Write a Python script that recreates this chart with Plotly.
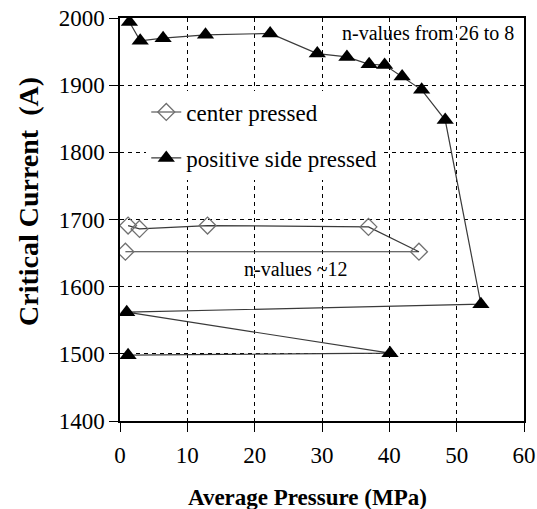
import plotly.graph_objects as go

# center pressed (open diamonds)
center_x = [1.2, 2.9, 13.0, 36.9, 44.4, 0.8]
center_y = [1691, 1686, 1691, 1689, 1652, 1652]

# positive side pressed (filled triangles)
pos_x = [1.4, 3.0, 6.4, 12.7, 22.3, 29.3, 33.7, 37.0, 39.3, 41.9, 44.8, 48.3, 53.6, 1.0, 40.1, 1.2]
pos_y = [1994, 1966, 1970, 1975, 1977, 1947, 1942, 1931, 1930, 1913, 1893, 1848, 1574, 1562, 1501, 1498]

x_ticks = [0, 10, 20, 30, 40, 50, 60]
y_ticks = [1400, 1500, 1600, 1700, 1800, 1900, 2000]

FONT = "Liberation Serif"

fig = go.Figure()
fig.add_trace(go.Scatter(
    x=center_x, y=center_y, mode="lines+markers", name="center pressed",
    legendgroup="a",
    line=dict(color="#3a3a3a", width=1.2),
    marker=dict(symbol="diamond-open", size=13, color="#707070", line=dict(width=1.3)),
))
fig.add_trace(go.Scatter(
    x=pos_x, y=pos_y, mode="lines+markers", name="positive side pressed",
    legendgroup="b",
    line=dict(color="#3a3a3a", width=1.2),
    marker=dict(symbol="triangle-up", size=15, color="black"),
))

fig.add_annotation(x=58.8, y=1977, xref="x", yref="y", text="n-values from 26 to 8",
                   showarrow=False, xanchor="right", yanchor="middle",
                   font=dict(family=FONT, size=20, color="black"))
fig.add_annotation(x=26.2, y=1627, xref="x", yref="y", text="n-values ~12",
                   showarrow=False, xanchor="center", yanchor="middle",
                   font=dict(family=FONT, size=20, color="black"))

# axis titles
fig.add_annotation(x=0.463, y=-0.1886, xref="paper", yref="paper",
                   text="<b>Average Pressure (MPa)</b>", showarrow=False,
                   xanchor="center", yanchor="middle",
                   font=dict(family=FONT, size=23, color="black"))
fig.add_annotation(x=-0.2277, y=0.5434, xref="paper", yref="paper",
                   text="<b>Critical Current\u00a0 (A)</b>", showarrow=False, textangle=-90,
                   xanchor="center", yanchor="middle",
                   font=dict(family=FONT, size=28, color="black"))

axis_common = dict(
    showline=True, linecolor="black", linewidth=1.5, mirror=True,
    ticks="outside", ticklen=9, tickcolor="black", tickwidth=1.2,
    showgrid=True, gridcolor="black", gridwidth=1, griddash="4px,4px",
    zeroline=False, automargin=False,
    tickfont=dict(family=FONT, size=23, color="black"),
)

fig.update_xaxes(range=[0, 60], tickvals=x_ticks, ticklabelstandoff=4, **axis_common)
fig.update_yaxes(range=[1400, 2000], tickvals=y_ticks, **axis_common)

fig.update_layout(
    width=537, height=509,
    margin=dict(l=120, r=13, t=18, b=88),
    plot_bgcolor="white", paper_bgcolor="white",
    showlegend=True,
    legend=dict(x=0.065, y=0.82, xanchor="left", yanchor="top",
                bgcolor="white", borderwidth=0,
                traceorder="grouped", tracegroupgap=13,
                font=dict(family=FONT, size=23, color="black"),
                itemwidth=30),
)

fig.write_html("out.html")
